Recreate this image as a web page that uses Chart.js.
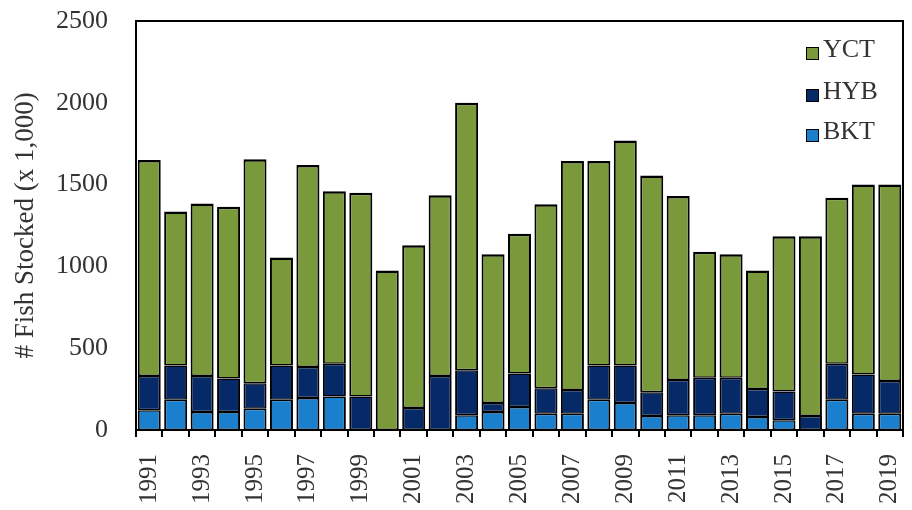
<!DOCTYPE html>
<html>
<head>
<meta charset="utf-8">
<script src="https://cdn.jsdelivr.net/npm/chart.js@4/dist/chart.umd.min.js"></script>
<style>
  html, body { margin: 0; padding: 0; background: #ffffff; }
  #wrap { width: 912px; height: 510px; position: relative; }
</style>
</head>
<body>
<div id="wrap"><canvas id="chart"></canvas></div>
<script>
// Stocking years
const years = [1991, 1992, 1993, 1994, 1995, 1996, 1997, 1998, 1999, 2000,
               2001, 2002, 2003, 2004, 2005, 2006, 2007, 2008, 2009, 2010,
               2011, 2012, 2013, 2014, 2015, 2016, 2017, 2018, 2019];

// Fish stocked per group, thousands of fish
const bkt = [120, 185, 110, 110, 130, 185, 195, 205, 0, 0,
             0, 0, 90, 110, 140, 100, 100, 185, 165, 85,
             90, 90, 100, 80, 60, 0, 185, 100, 100];
const hyb = [210, 210, 220, 205, 155, 210, 190, 200, 205, 0,
             135, 330, 275, 55, 205, 155, 145, 210, 230, 145,
             215, 230, 220, 170, 175, 85, 220, 240, 200];
const yct = [1320, 940, 1055, 1050, 1370, 660, 1235, 1055, 1245, 975,
             995, 1105, 1635, 910, 855, 1125, 1400, 1250, 1375, 1325,
             1125, 770, 755, 725, 950, 1100, 1015, 1160, 1200];

const yTicks = [0, 500, 1000, 1500, 2000, 2500];
const yTitle = '# Fish Stocked (x 1,000)';

const textColor = '#333333';
const serif = "'Liberation Serif', 'Times New Roman', serif";
Chart.defaults.font.family = serif;
Chart.defaults.color = textColor;

// Let the layout padding alone decide the plot edges
function noLabelPadding(scale) {
  scale.paddingLeft = 0;
  scale.paddingRight = 0;
  scale.paddingTop = 0;
  scale.paddingBottom = 0;
}

// Black box around the plotting area
const frame = {
  id: 'frame',
  afterDatasetsDraw(chart) {
    const { ctx, chartArea: a } = chart;
    ctx.save();
    ctx.strokeStyle = '#000000';
    ctx.lineWidth = 2;
    ctx.strokeRect(a.left, a.top, a.right - a.left, a.bottom - a.top);
    ctx.restore();
  }
};

// Legend stacked top-right inside the plot, listed top series first
const insideLegend = {
  id: 'insideLegend',
  afterDraw(chart) {
    const { ctx, chartArea: a } = chart;
    const sets = chart.data.datasets.slice().reverse();
    const x0 = a.right - 97;
    const rows = [49, 91, 131];
    ctx.save();
    ctx.font = '26px ' + serif;
    ctx.textBaseline = 'middle';
    ctx.textAlign = 'left';
    sets.forEach((ds, i) => {
      const y = rows[i];
      ctx.fillStyle = ds.backgroundColor;
      ctx.fillRect(x0, y - 2, 13, 13);
      ctx.strokeStyle = '#000000';
      ctx.lineWidth = 1;
      ctx.strokeRect(x0 + 0.5, y - 1.5, 12, 12);
      ctx.fillStyle = textColor;
      ctx.fillText(ds.label, x0 + 17, y + 1);
    });
    ctx.restore();
  }
};

const segBorder = { left: 2, right: 2, top: 1.5, bottom: 1.5 };
const topBorder = { left: 2, right: 2, top: 2.5, bottom: 1.5 };

const common = {
  borderColor: '#000000',
  borderSkipped: false,
  barPercentage: 1.0,
  categoryPercentage: 0.87
};

new Chart(document.getElementById('chart'), {
  type: 'bar',
  data: {
    labels: years.map(String),
    datasets: [
      Object.assign({ label: 'BKT', data: bkt, backgroundColor: '#1A7FCC', borderWidth: segBorder }, common),
      Object.assign({ label: 'HYB', data: hyb, backgroundColor: '#062A68', borderWidth: segBorder }, common),
      Object.assign({ label: 'YCT', data: yct, backgroundColor: '#7A993B', borderWidth: topBorder }, common)
    ]
  },
  options: {
    responsive: true,
    maintainAspectRatio: false,
    animation: false,
    layout: { padding: { left: 0, right: 9, top: 21, bottom: 0 } },
    plugins: {
      legend: { display: false },
      tooltip: { enabled: false }
    },
    scales: {
      x: {
        stacked: true,
        offset: true,
        border: { display: false },
        grid: {
          offset: true,
          drawOnChartArea: false,
          drawTicks: true,
          tickLength: 7,
          color: '#000000',
          lineWidth: 2
        },
        ticks: {
          autoSkip: false,
          minRotation: 90,
          maxRotation: 90,
          padding: 17,
          color: textColor,
          font: { size: 25 },
          callback: function (v, i) { return i % 2 === 0 ? this.getLabelForValue(v) : ''; }
        },
        afterFit(scale) { scale.height = 80; noLabelPadding(scale); }
      },
      y: {
        stacked: true,
        min: 0,
        max: 2500,
        border: { display: false },
        grid: { display: false, drawTicks: false },
        afterBuildTicks(scale) { scale.ticks = yTicks.map(v => ({ value: v })); },
        ticks: {
          padding: 28,
          color: textColor,
          font: { size: 26 },
          callback: (v) => String(v)
        },
        title: {
          display: true,
          text: yTitle,
          color: textColor,
          font: { size: 27 },
          padding: { top: 10, bottom: 0 }
        },
        afterFit(scale) { scale.width = 136; noLabelPadding(scale); }
      }
    }
  },
  plugins: [frame, insideLegend]
});
</script>
</body>
</html>
